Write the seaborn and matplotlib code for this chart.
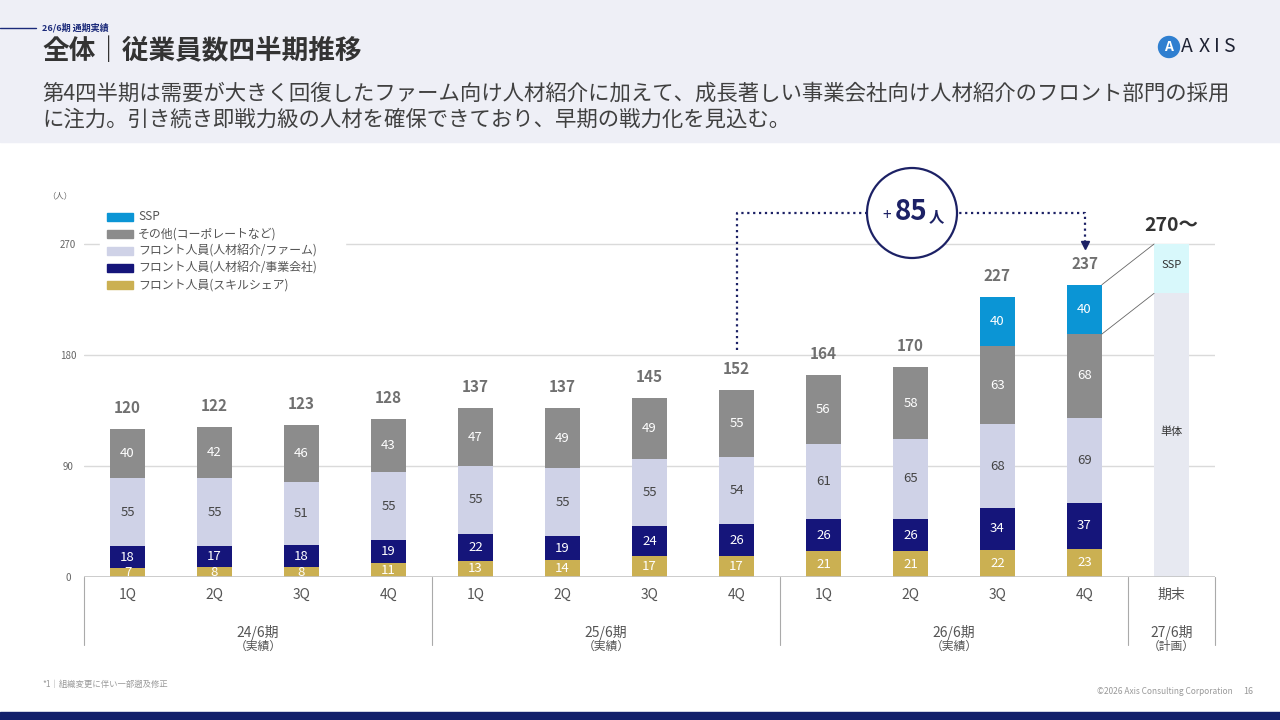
import numpy as np
import pandas as pd
import matplotlib.pyplot as plt
import seaborn as sns
from matplotlib.patches import Rectangle, Circle
from matplotlib.lines import Line2D
from matplotlib.transforms import blended_transform_factory

# ---- data ----
quarters = ["1Q", "2Q", "3Q", "4Q"] * 3 + ["期末"]
periods = ["24/6期", "25/6期", "26/6期", "27/6期"]
period_notes = ["（実績）", "（実績）", "（実績）", "（計画）"]
period_spans = [(0, 3), (4, 7), (8, 11), (12, 12)]

skill = [7, 8, 8, 11, 13, 14, 17, 17, 21, 21, 22, 23]
jigyo = [18, 17, 18, 19, 22, 19, 24, 26, 26, 26, 34, 37]
farm = [55, 55, 51, 55, 55, 55, 55, 54, 61, 65, 68, 69]
other = [40, 42, 46, 43, 47, 49, 49, 55, 56, 58, 63, 68]
ssp = [0, 0, 0, 0, 0, 0, 0, 0, 0, 0, 40, 40]
totals = [120, 122, 123, 128, 137, 137, 145, 152, 164, 170, 227, 237]

plan_total = 270
plan_ssp = 40
increase = 85

series_names = ["SSP", "その他(コーポレートなど)", "フロント人員(人材紹介/ファーム)",
                "フロント人員(人材紹介/事業会社)", "フロント人員(スキルシェア)"]
colors = {"ssp": "#0B95D5", "other": "#8C8C8C", "farm": "#CFD2E7",
          "jigyo": "#15157A", "skill": "#CBB052"}
plan_colors = {"ssp": "#D8F8FB", "base": "#E7E9F1"}
navy = "#1C2165"

# ---- frame ----
pos = [f"{p}-{q}" for p, (a, b) in zip(periods, period_spans) for q in quarters[a:b + 1]]
df = pd.DataFrame({"pos": pos})
n_act = len(skill)
for name, vals in [("skill", skill), ("jigyo", jigyo), ("farm", farm), ("other", other), ("ssp", ssp)]:
    df[name] = list(vals) + [np.nan]
cum = df[["skill", "jigyo", "farm", "other", "ssp"]].cumsum(axis=1)
df["plan_top"] = [np.nan] * n_act + [plan_total]
df["plan_base"] = [np.nan] * n_act + [plan_total - plan_ssp]

sns.set_theme(style="white")
plt.rcParams["font.family"] = ["Noto Sans CJK JP", "DejaVu Sans"]

fig = plt.figure(figsize=(12.8, 7.2), dpi=100)
W, H = 1280, 720
fx = lambda px: px / W
fy = lambda py: 1 - py / H

# header band + footer bar
fig.add_artist(Rectangle((0, fy(142)), 1, 142 / H, transform=fig.transFigure,
                         color="#EEEFF6", zorder=0))
fig.add_artist(Rectangle((0, 0), 1, 8 / H, transform=fig.transFigure,
                         color="#13206B", zorder=0))
fig.add_artist(Line2D([0, fx(36)], [fy(28), fy(28)], color="#1B2A7A", lw=1))
fig.text(fx(42), fy(28), "26/6期 通期実績", fontsize=6.5, weight="bold",
         color="#1B2A7A", va="center")
fig.text(fx(42), fy(52), "全体｜従業員数四半期推移", fontsize=19.2, weight="bold",
         color="#333333", va="center")
fig.text(fx(42), fy(94), "第4四半期は需要が大きく回復したファーム向け人材紹介に加えて、"
         "成長著しい事業会社向け人材紹介のフロント部門の採用",
         fontsize=15.4, color="#404040", va="center")
fig.text(fx(42), fy(120), "に注力。引き続き即戦力級の人材を確保できており、早期の戦力化を見込む。",
         fontsize=15.4, color="#404040", va="center")
# logo
fig.add_artist(Circle((fx(1169) * 12.8, fy(47) * 7.2), 0.105, transform=fig.dpi_scale_trans,
                      color="#2F7FD0", zorder=2))
fig.text(fx(1169), fy(47), "A", fontsize=10, weight="bold", color="white",
         ha="center", va="center", zorder=3)
for ch, px in zip("AXIS", [1187, 1204, 1217, 1229]):
    fig.text(fx(px), fy(47), ch, fontsize=14, color="#1E2233", ha="center", va="center")

# ---- chart ----
ax = fig.add_axes([fx(84), fy(577), (1215 - 84) / W, (577 - 160) / H])
y_top = (577 - 160) / (333 / 270)

layers = [("plan_top", plan_colors["ssp"]), ("plan_base", plan_colors["base"]),
          ("ssp", colors["ssp"]), ("other", colors["other"]), ("farm", colors["farm"]),
          ("jigyo", colors["jigyo"]), ("skill", colors["skill"])]
for col, c in layers:
    data = df[["pos"]].copy()
    data["v"] = df[col] if col.startswith("plan") else cum[col]
    sns.barplot(data=data, x="pos", y="v", order=pos, color=c, saturation=1,
                width=0.4, errorbar=None, linewidth=0, ax=ax, zorder=2)

ax.set_xlim(-0.5, 12.5)
ax.set_ylim(0, y_top)
ax.set_xlabel("")
ax.set_ylabel("")
for s in ax.spines.values():
    s.set_visible(False)
ax.set_yticks([0, 90, 180, 270])
ax.set_yticklabels(["0", "90", "180", "270"])
for lab in ax.get_yticklabels():
    lab.set_ha("center")
ax.tick_params(axis="y", length=0, pad=11.5, labelsize=7, labelcolor="#666666")
ax.set_xticks(range(len(pos)))
ax.set_xticklabels(quarters)
ax.tick_params(axis="x", length=0, pad=8, labelsize=10, labelcolor="#555555")
for g in [90, 180, 270]:
    ax.axhline(g, color="#DADADA", lw=1, zorder=0)
ax.axhline(0, color="#C4C4C4", lw=1.2, zorder=3)

# segment labels
seg_cols = ["skill", "jigyo", "farm", "other", "ssp"]
for i in range(n_act):
    base = 0
    for col in seg_cols:
        v = df.loc[i, col]
        if v > 0:
            ax.text(i, base + v / 2, f"{int(v)}", ha="center", va="center", fontsize=9.5,
                    color="#444444" if col == "farm" else "white", zorder=4)
        base += v
    ax.text(i, totals[i] + 17, f"{totals[i]}", ha="center", va="center",
            fontsize=11, weight="bold", color="#707070")

# plan bar texts
ax.text(12, plan_total - plan_ssp / 2 + 3, "SSP", ha="center", va="center", fontsize=8, color="#333333")
ax.text(12, 118, "単体", ha="center", va="center", fontsize=8, color="#333333")
ax.text(12, 285, f"{plan_total}～", ha="center", va="center", fontsize=14,
        weight="bold", color="#333333")
ax.plot([11.2, 11.8], [totals[11], plan_total], color="#666666", lw=0.6, zorder=3)
ax.plot([11.2, 11.8], [totals[11] - ssp[11], plan_total - plan_ssp], color="#666666", lw=0.6, zorder=3)

# +85 bracket
ax.plot([7, 7, 11, 11], [184, 295, 295, 272], color=navy, lw=1.6, ls=":", clip_on=False, zorder=5)
ax.plot([11], [269], marker="v", color=navy, markersize=6, clip_on=False, zorder=5)
fig.add_artist(Circle((fx(912) * 12.8, fy(213) * 7.2), 0.45, transform=fig.dpi_scale_trans,
                      facecolor="white", edgecolor=navy, lw=1.6, zorder=5))
fig.text(fx(887), fy(215), "+", fontsize=11, color=navy, ha="center", va="center", zorder=6)
fig.text(fx(911), fy(212), f"{increase}", fontsize=20, weight="bold", color=navy,
         ha="center", va="center", zorder=6)
fig.text(fx(936), fy(216), "人", fontsize=11, weight="bold", color=navy,
         ha="center", va="center", zorder=6)

# period dividers and labels
tr = blended_transform_factory(ax.transData, ax.transAxes)
for x in [-0.5, 3.5, 7.5, 11.5, 12.5]:
    ax.plot([x, x], [0, -0.163], color="#AAAAAA", lw=0.8, transform=tr, clip_on=False)
for p, note, (a, b) in zip(periods, period_notes, period_spans):
    xc = (a + b) / 2
    ax.text(xc, -0.132, p, transform=tr, ha="center", va="center", fontsize=10, color="#555555")
    ax.text(xc, -0.166, note, transform=tr, ha="center", va="center", fontsize=8.5, color="#555555")

# legend (drawn by hand to match the slide)
fig.add_artist(Rectangle((fx(100), fy(296)), 245 / W, 88 / H, transform=fig.transFigure,
                         color="white", zorder=3))
for k, (name, col) in enumerate(zip(series_names, ["ssp", "other", "farm", "jigyo", "skill"])):
    yy = 217 + 17 * k
    fig.add_artist(Rectangle((fx(107), fy(yy + 4)), 26 / W, 8 / H, transform=fig.transFigure,
                             color=colors[col], zorder=4))
    fig.text(fx(138), fy(yy), name, fontsize=8.6, color="#555555", va="center", zorder=4)

fig.text(fx(60), fy(196), "（人）", fontsize=6, color="#666666", ha="center", va="center")
fig.text(fx(42), fy(684), "*1｜組織変更に伴い一部遡及修正", fontsize=6, color="#999999", va="center")
fig.text(fx(1233), fy(692), "©2026 Axis Consulting Corporation", fontsize=6, color="#999999",
         ha="right", va="center")
fig.text(fx(1248), fy(692), "16", fontsize=6.5, color="#999999", ha="center", va="center")

fig.savefig("out.png", dpi=100)
